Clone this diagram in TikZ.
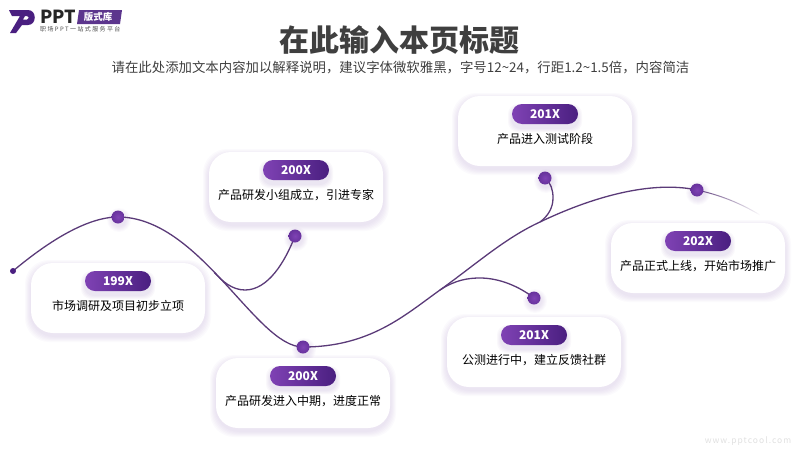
\documentclass[tikz,border=0pt]{standalone}
\usepackage{fontspec}
\setmainfont{Noto Sans CJK SC}
\usetikzlibrary{calc}
\usetikzlibrary{positioning}
\usetikzlibrary{fadings}

\definecolor{linepurple}{HTML}{5A3A78}
\definecolor{deeppurple}{HTML}{4A1F80}
\definecolor{lightpurple}{HTML}{7F42B4}
\definecolor{shadowpurple}{HTML}{6A3A9C}
\definecolor{titlegray}{HTML}{3F3F3F}

\tikzset{
    timeline/.style={line width=1.3pt, color=linepurple},
    card/.style={fill=white, rounded corners=22pt, minimum width=174pt, minimum height=70pt, inner sep=0pt},
    pill/.style={rounded corners=10pt, minimum width=66pt, minimum height=20pt, inner sep=0pt,
        left color=lightpurple, right color=deeppurple, text=white, font=\bfseries\fontsize{12}{12}\selectfont},
    cardtext/.style={inner sep=0pt, text=black, font=\fontsize{12}{12}\selectfont},
    bigdot/.style={circle, minimum size=13pt, inner sep=0pt, inner color=lightpurple, outer color=lightpurple!55!deeppurple},
}

\begin{document}
\begin{tikzpicture}[x=1pt,y=-1pt]

    \useasboundingbox (0,0) rectangle (800,450);

    % heading
    \node [inner sep=0pt, text=titlegray, font=\bfseries\fontsize{30}{30}\selectfont] (title) at (399.5,40) {在此输入本页标题};
    \node [inner sep=0pt, text=titlegray, font=\fontsize{13.4}{13.4}\selectfont] (subtitle) at (400.5,68) {请在此处添加文本内容加以解释说明，建议字体微软雅黑，字号12\textasciitilde 24，行距1.2\textasciitilde 1.5倍，内容简洁};

    % logo
    \fill[deeppurple, even odd rule] (9,10) -- (28,10) .. controls (37,10) and (37,25) .. (28,25) -- (22,25) -- (16,33) -- (10,33) -- (20,16) -- (12,16) -- cycle
        (25,16) -- (27,16) .. controls (29.5,16) and (29.5,19.5) .. (27,19.5) -- (23,19.5) -- cycle;
    \node [inner sep=0pt, anchor=west, text=black!85, font=\bfseries\fontsize{18}{18}\selectfont] (logo_ppt) at (40,17) {PPT};
    \fill[deeppurple!90] (79,10) -- (122,10) -- (120,24) -- (77,24) -- cycle;
    \node [inner sep=0pt, text=white, font=\bfseries\fontsize{9.5}{9.5}\selectfont] (logo_tag) at (98,17) {版式库};
    \node [inner sep=0pt, anchor=west, text=black!70, font=\fontsize{6}{6}\selectfont\addfontfeature{LetterSpace=23}] (logo_sub) at (40,29.5) {职场PPT一站式服务平台};

    % curve stations
    \coordinate (start) at (13,271);
    \coordinate (stop_199) at (118,217);
    \coordinate (stop_200b) at (303,347);
    \coordinate (stop_202) at (697,190);
    \coordinate (fade_end) at (760,215);
    \coordinate (stop_200a) at (295,236);
    \coordinate (stop_201b) at (534,298);
    \coordinate (stop_201a) at (545,178);
    \coordinate (fork_200) at (214.3,272.4);
    \coordinate (fork_201b) at (440,290);
    \coordinate (fork_201a) at (540,222);

    % main curve and its branches
    \draw[timeline] (start) .. controls (50,240) and (88,217) .. (stop_199)
        .. controls (200,217) and (256,347) .. (stop_200b)
        .. controls (370,347) and (405,315) .. (fork_201b)
        .. controls (475,265) and (505,238) .. (fork_201a)
        .. controls (590,198) and (650,180) .. (stop_202);
    \draw[timeline, line width=1pt, path fading=east] (stop_202) .. controls (720,195) and (740,203) .. (fade_end);
    \draw[timeline] (fork_200) .. controls (222,281) and (232,290) .. (245,290)
        .. controls (268,290) and (285,262) .. (stop_200a);
    \draw[timeline] (fork_201b) .. controls (455,280) and (468,278) .. (480,278)
        .. controls (500,278) and (520,287) .. (stop_201b);
    \draw[timeline] (fork_201a) .. controls (548,216) and (553,208) .. (553,198)
        .. controls (553,190) and (551,183) .. (stop_201a);

    % dots
    \foreach \s in {stop_199,stop_200a,stop_200b,stop_201a,stop_201b,stop_202}{
        \foreach \r in {7,8,...,12}
            \fill[shadowpurple, opacity=0.022] ($(\s)+(1,3)$) circle (\r);
        \node [bigdot] (dot_\s) at (\s) {};
    }
    \node [circle, fill=deeppurple, minimum size=6pt, inner sep=0pt] (dot_start) at (start) {};

    % cards
    \foreach \n/\cx/\cy/\yr/\txt in {
        a/118/298/199X/市场调研及项目初步立项,
        b/296/187/200X/产品研发小组成立，引进专家,
        c/303/393/200X/产品研发进入中期，进度正常,
        d/545/131/201X/产品进入测试阶段,
        e/534/352/201X/公测进行中，建立反馈社群,
        f/698/258/202X/产品正式上线，开始市场推广}{
        \foreach \g in {1,...,6}
            \fill[shadowpurple, opacity=0.022, rounded corners=24pt]
                ($(\cx,\cy)+(-87-\g,-35-\g+3)$) rectangle ($(\cx,\cy)+(87+\g,35+\g+3)$);
        \node [card] (card_\n) at (\cx,\cy) {};
        \foreach \g in {1,...,4}
            \fill[shadowpurple, opacity=0.03, rounded corners=10pt]
                ($(\cx,\cy)+(-33-\g,-25-\g+2)$) rectangle ($(\cx,\cy)+(33+\g,-5+\g+2)$);
        \node [pill, below=8pt of card_\n.north] (pill_\n) {\yr};
        \node [cardtext, below=9pt of pill_\n] (text_\n) {\txt};
    }

    \node [inner sep=0pt, text=black!12, font=\fontsize{8.5}{8.5}\selectfont\addfontfeature{LetterSpace=12}] (watermark) at (748,441.5) {www.pptcool.com};

\end{tikzpicture}
\end{document}
